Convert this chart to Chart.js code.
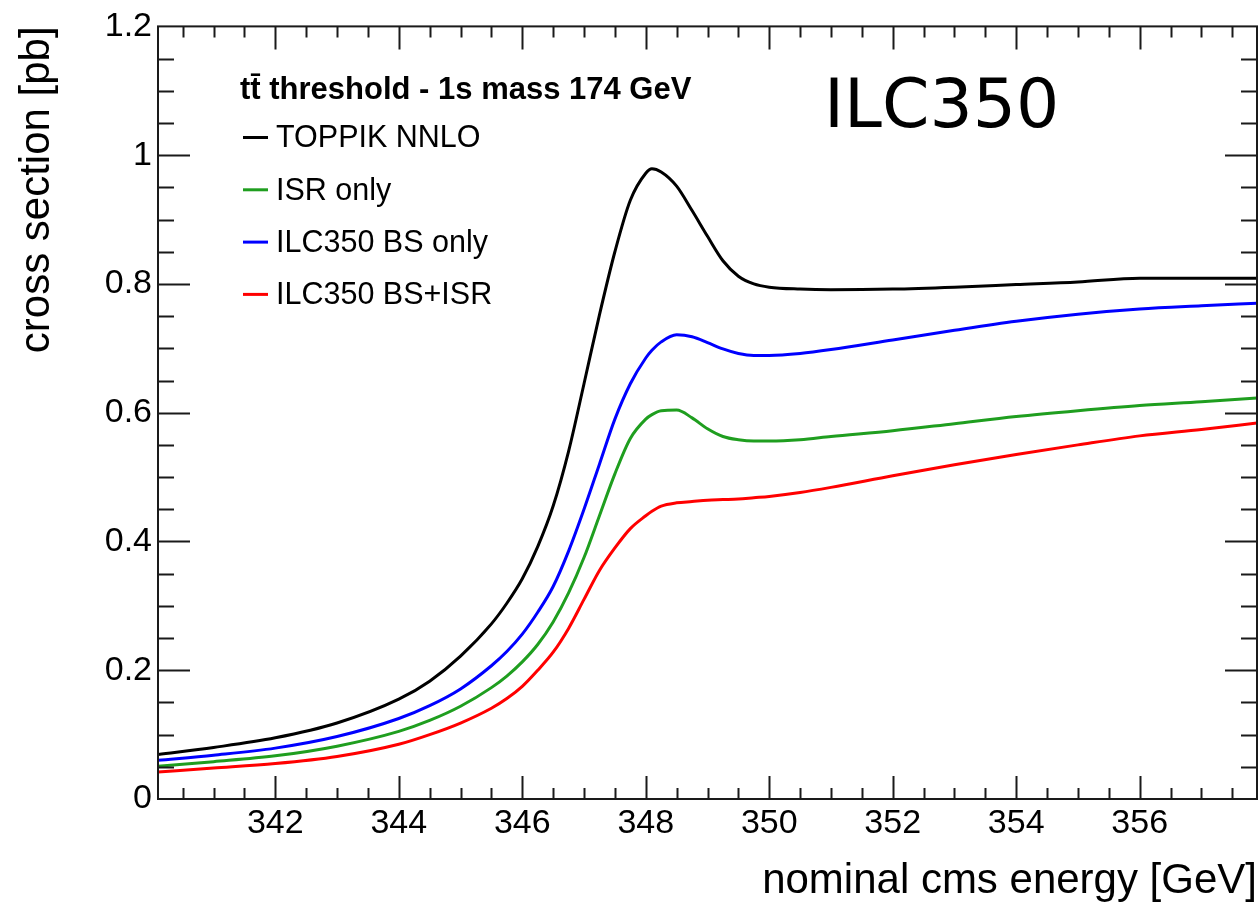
<!DOCTYPE html>
<html>
<head>
<meta charset="utf-8">
<title>ttbar threshold ILC350</title>
<script src="https://cdn.jsdelivr.net/npm/chart.js@4.4.0/dist/chart.umd.min.js"></script>
<style>
  html, body { margin: 0; padding: 0; background: #fff; }
</style>
</head>
<body>
<canvas id="xsec_chart" width="1260" height="909"></canvas>
<script>
// nominal cms energy [GeV], shared by all four curves
var energy = [340.1, 341, 342, 343, 344, 344.5, 345, 345.5, 345.75, 346, 346.25, 346.5, 346.75,
  347, 347.25, 347.5, 347.75, 348, 348.1, 348.25, 348.5, 348.75, 349, 349.25, 349.5,
  349.75, 350, 350.5, 351, 352, 353, 354, 355, 356, 357, 357.9];

// cross section [pb]
var toppik = [0.069, 0.080, 0.095, 0.118, 0.155, 0.183, 0.222, 0.272, 0.304, 0.342, 0.392, 0.455, 0.540,
  0.645, 0.752, 0.850, 0.930, 0.972, 0.979, 0.974, 0.952, 0.914, 0.874, 0.836, 0.812,
  0.800, 0.795, 0.792, 0.791, 0.792, 0.795, 0.799, 0.803, 0.809, 0.809, 0.809];
var isrOnly = [0.051, 0.058, 0.067, 0.082, 0.105, 0.122, 0.144, 0.173, 0.191, 0.213, 0.240, 0.275, 0.320,
  0.375, 0.440, 0.505, 0.560, 0.590, 0.597, 0.603, 0.604, 0.592, 0.575, 0.563, 0.558,
  0.556, 0.556, 0.558, 0.563, 0.572, 0.583, 0.594, 0.603, 0.611, 0.617, 0.623];
var bsOnly = [0.060, 0.068, 0.079, 0.097, 0.125, 0.145, 0.171, 0.207, 0.229, 0.256, 0.290, 0.330, 0.385,
  0.450, 0.520, 0.590, 0.645, 0.685, 0.697, 0.710, 0.721, 0.718, 0.709, 0.699, 0.692,
  0.689, 0.689, 0.692, 0.698, 0.713, 0.728, 0.742, 0.753, 0.761, 0.766, 0.770];
var bsIsr = [0.042, 0.048, 0.055, 0.066, 0.085, 0.100, 0.118, 0.141, 0.156, 0.175, 0.200, 0.228, 0.265,
  0.310, 0.355, 0.390, 0.420, 0.440, 0.447, 0.455, 0.460, 0.462, 0.464, 0.465, 0.466,
  0.468, 0.470, 0.476, 0.484, 0.502, 0.519, 0.535, 0.550, 0.564, 0.574, 0.584];

var seriesLabels = ["TOPPIK NNLO", "ISR only", "ILC350 BS only", "ILC350 BS+ISR"];
var seriesValues = [toppik, isrOnly, bsOnly, bsIsr];
var seriesColors = ["#000000", "#1f9e1f", "#0000ff", "#ff0000"];

var xTicks = [342, 344, 346, 348, 350, 352, 354, 356];
var yTicks = [0, 0.2, 0.4, 0.6, 0.8, 1, 1.2];
var xRange = [340.1, 357.9];
var yRange = [0, 1.2];

var legendTitle = "tt\u0304 threshold - 1s mass 174 GeV";
var plotTag = "ILC350";

var FONT = "'Liberation Sans', Arial, Helvetica, sans-serif";

// ROOT style frame with inward ticks on all four sides
var frameTicks = {
  id: 'frameTicks',
  afterDatasetsDraw: function(chart) {
    var ctx = chart.ctx, a = chart.chartArea;
    var xs = chart.scales.x, ys = chart.scales.y;
    ctx.save();
    ctx.strokeStyle = '#1a1a1a';
    ctx.lineWidth = 2;
    ctx.strokeRect(a.left, a.top, a.right - a.left, a.bottom - a.top);
    ctx.beginPath();
    var v, p, len;
    for (v = 340.5; v <= xRange[1]; v += 0.5) {
      p = Math.round(xs.getPixelForValue(v)) + 0.5;
      len = (v % 2 === 0) ? 23 : 11;
      ctx.moveTo(p, a.bottom); ctx.lineTo(p, a.bottom - len);
      ctx.moveTo(p, a.top); ctx.lineTo(p, a.top + len);
    }
    for (v = 0.05; v < yRange[1]; v += 0.05) {
      p = Math.round(ys.getPixelForValue(v)) + 0.5;
      len = (Math.abs(v * 5 - Math.round(v * 5)) < 1e-6) ? 32 : 16;
      ctx.moveTo(a.left, p); ctx.lineTo(a.left + len, p);
      ctx.moveTo(a.right, p); ctx.lineTo(a.right - len, p);
    }
    ctx.stroke();
    ctx.restore();
  }
};

// legend box in the upper left plus the ILC350 tag
var legendTag = {
  id: 'legendTag',
  afterDraw: function(chart) {
    var ctx = chart.ctx;
    ctx.save();
    ctx.fillStyle = '#000';
    ctx.textBaseline = 'middle';
    ctx.textAlign = 'left';
    ctx.font = 'bold 31px ' + FONT;
    ctx.fillText(legendTitle, 240, 90);
    ctx.font = '30.5px ' + FONT;
    chart.data.datasets.forEach(function(ds, i) {
      var y = 139 + i * 52.3;
      ctx.strokeStyle = ds.borderColor;
      ctx.lineWidth = 3;
      ctx.beginPath();
      ctx.moveTo(243, y - 1.5);
      ctx.lineTo(268, y - 1.5);
      ctx.stroke();
      ctx.fillText(ds.label, 276, y);
    });
    ctx.font = '68px "DejaVu Sans", sans-serif';
    ctx.textBaseline = 'alphabetic';
    ctx.fillText(plotTag, 824, 127);
    ctx.restore();
  }
};

var ctx = document.getElementById("xsec_chart").getContext('2d');
var xsec_chart = new Chart(ctx, {
  type: 'line',
  data: {
    datasets: seriesLabels.map(function(lab, i) {
      return {
        label: lab,
        data: energy.map(function(e, j) { return { x: e, y: seriesValues[i][j] }; }),
        borderColor: seriesColors[i],
        borderWidth: 3,
        pointRadius: 0,
        fill: false,
        cubicInterpolationMode: 'monotone'
      };
    })
  },
  options: {
    responsive: false,
    animation: false,
    layout: { padding: { top: 21, right: 3, left: 0, bottom: 0 } },
    plugins: { legend: { display: false }, tooltip: { enabled: false } },
    scales: {
      x: {
        type: 'linear',
        min: xRange[0],
        max: xRange[1],
        grid: { display: false, drawTicks: false },
        border: { display: false },
        afterBuildTicks: function(scale) {
          scale.ticks = xTicks.map(function(v) { return { value: v }; });
        },
        afterFit: function(scale) { scale.height = 110; },
        ticks: {
          color: '#000',
          padding: 4,
          maxRotation: 0,
          autoSkip: false,
          font: { family: FONT, size: 34 },
          callback: function(v) { return String(v); }
        },
        title: {
          display: true,
          text: 'nominal cms energy [GeV]',
          align: 'end',
          color: '#000',
          font: { family: FONT, size: 42 },
          padding: { top: 0, bottom: 2 }
        }
      },
      y: {
        type: 'linear',
        min: yRange[0],
        max: yRange[1],
        grid: { display: false, drawTicks: false },
        border: { display: false },
        afterBuildTicks: function(scale) {
          scale.ticks = yTicks.map(function(v) { return { value: v }; });
        },
        afterFit: function(scale) { scale.width = 158; },
        ticks: {
          color: '#000',
          padding: 6,
          autoSkip: false,
          font: { family: FONT, size: 34 },
          callback: function(v) { return String(+v.toFixed(1)); }
        },
        title: {
          display: true,
          text: 'cross section [pb]',
          align: 'end',
          color: '#000',
          font: { family: FONT, size: 42 },
          padding: { top: 12, bottom: 0 }
        }
      }
    }
  },
  plugins: [frameTicks, legendTag]
});
</script>
</body>
</html>
